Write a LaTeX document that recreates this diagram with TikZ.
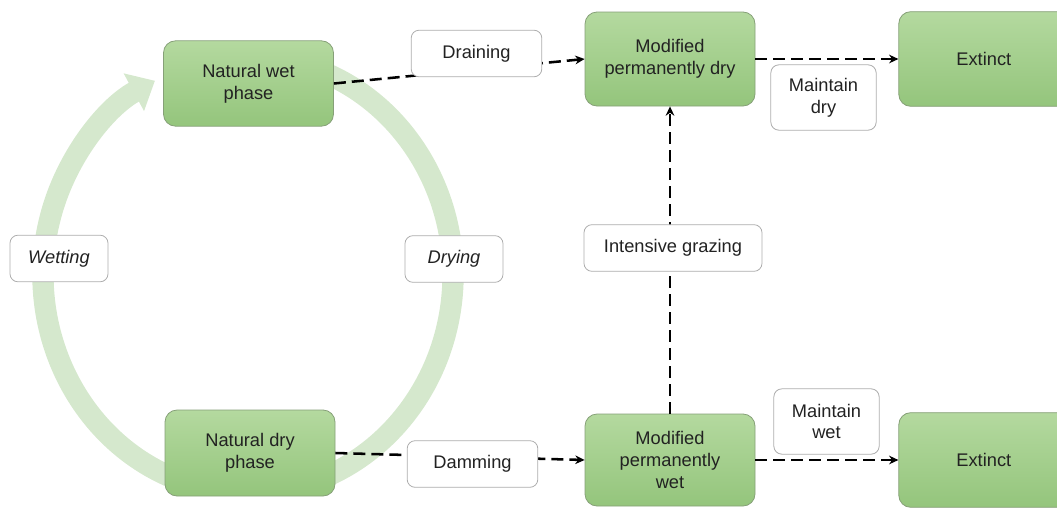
\documentclass[tikz,border=0pt]{standalone}
\usepackage{fontspec}
\setmainfont{Liberation Sans}
\usepackage{tikz}
\usetikzlibrary{arrows.meta,positioning}
\definecolor{greentop}{HTML}{B4D99F}
\definecolor{greenbot}{HTML}{94C57C}
\definecolor{blockedge}{HTML}{86A078}
\definecolor{notegray}{HTML}{ADADAD}
\definecolor{loopgreen}{HTML}{D5E8CD}
\definecolor{textgray}{HTML}{222222}

\begin{document}
\begin{tikzpicture}[x=0.75pt, y=-0.75pt,
  block/.style={
    draw=blockedge, line width=0.6pt, rounded corners=9pt, align=center,
    top color=greentop, bottom color=greenbot, text=textgray,
    minimum width=127.5pt, minimum height=70.5pt,
    font=\fontsize{13.7}{16.3}\selectfont
  },
  note/.style={
    draw=notegray, line width=0.6pt, fill=white, rounded corners=6pt,
    align=center, text=textgray, minimum height=35pt,
    font=\fontsize{13.7}{16.3}\selectfont
  },
  arrow/.style={-{Stealth[length=7pt,width=6.5pt]}, line width=1.9pt,
    dash pattern=on 9pt off 4.5pt},
  loopband/.style={line width=16pt, loopgreen}
]
\useasboundingbox (0,0) rectangle (1057,511);

% wetting / drying cycle
\draw[loopband, -{Triangle[width=31pt,length=18pt]}]
  (248,275) ++(110:205 and 218) arc[start angle=110, end angle=243, x radius=205, y radius=218];
\draw[loopband]
  (248,275) ++(-75:205 and 218) arc[start angle=-75, end angle=70, x radius=205, y radius=218];

\node[block, minimum height=64pt] (wet) at (248.5,83.5) {Natural wet\\phase};
\node[block, minimum height=64.5pt] (dry) at (250,453) {Natural dry\\phase};
\node[block] (moddry) at (670,59) {Modified\\permanently dry};
\node[block, minimum height=69pt] (modwet) at (670,460) {Modified\\permanently\\wet};
\node[block, minimum height=71pt, right=107.25pt of moddry] (ext1) {Extinct};
\node[block, minimum height=71pt, right=107.25pt of modwet] (ext2) {Extinct};

\draw[arrow] (wet.east) -- (moddry.west);
\draw[arrow] (dry.east) -- (modwet.west);
\draw[arrow] (modwet.north) -- (moddry.south);
\draw[arrow] (moddry) -- (ext1);
\draw[arrow] (modwet) -- (ext2);

\node[note, minimum width=98pt] (drain) at (476.5,53.5) {Draining};
\node[note, minimum width=98pt] (dam) at (472.5,464) {Damming};
\node[note, minimum width=133.5pt] (graze) at (673,248) {Intensive grazing};
\node[note, minimum width=79pt, minimum height=49pt] (keepdry) at (823.5,97.5) {Maintain\\dry};
\node[note, minimum width=79pt, minimum height=49pt] (keepwet) at (826.5,421.5) {Maintain\\wet};
\node[note, minimum width=73.5pt, font=\fontsize{13.7}{16.3}\selectfont\itshape] (wetting) at (59,258.5) {Wetting};
\node[note, minimum width=73.5pt, font=\fontsize{13.7}{16.3}\selectfont\itshape] (drying) at (454,259) {Drying};
\end{tikzpicture}
\end{document}
